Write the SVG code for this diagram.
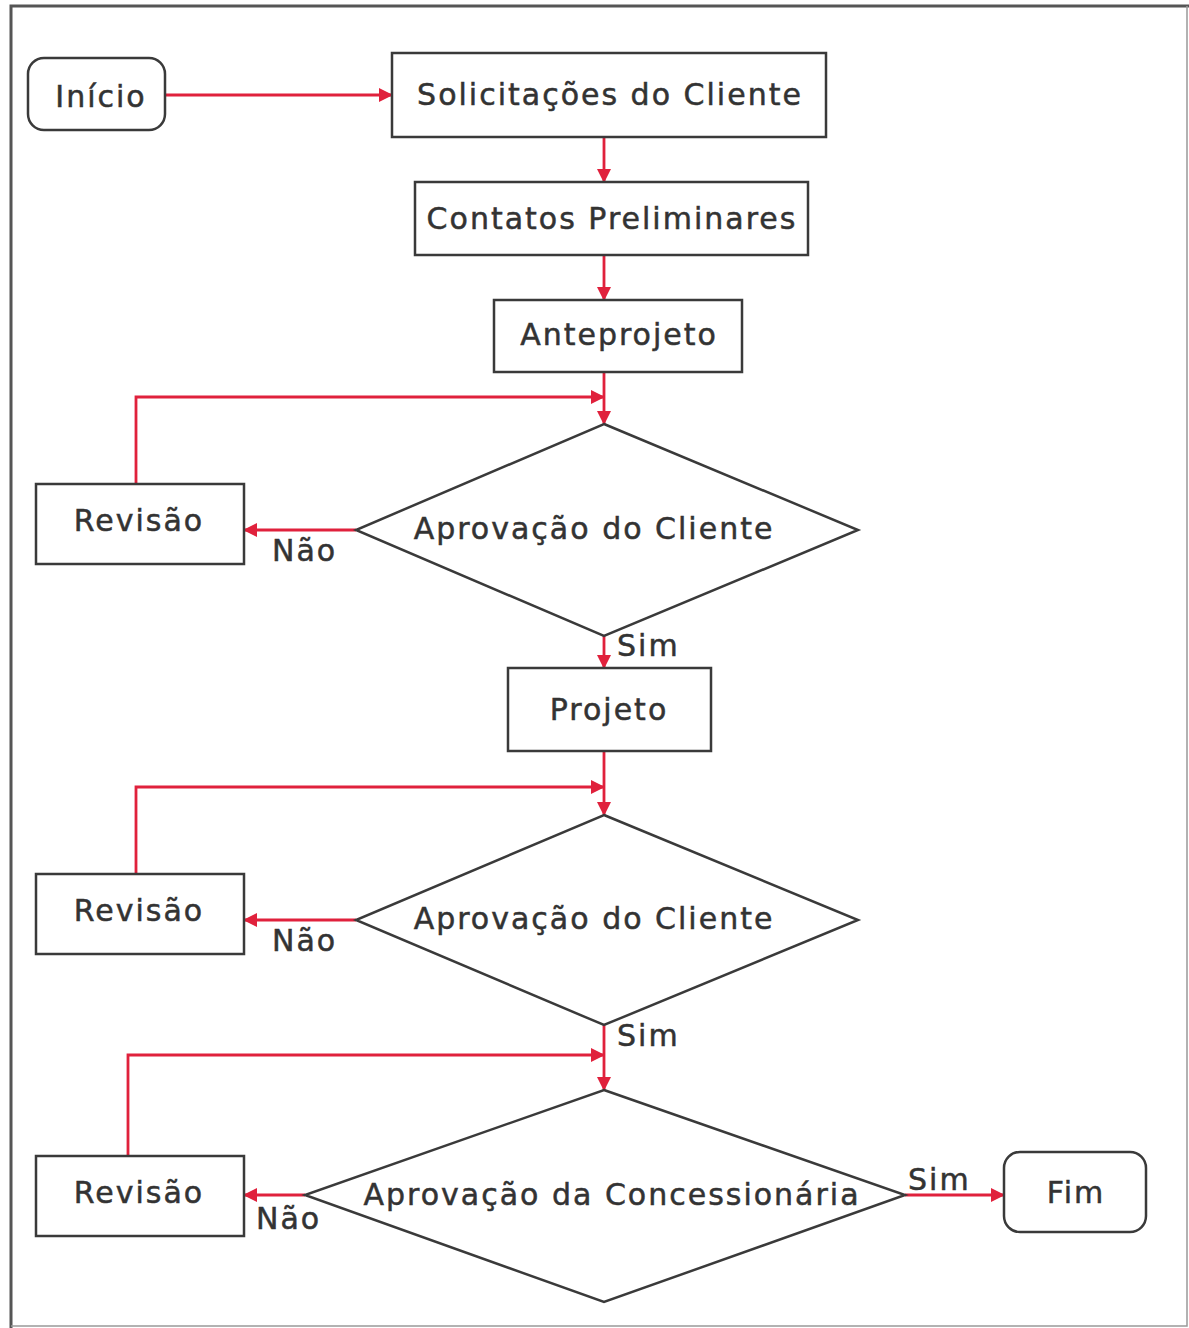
<svg xmlns="http://www.w3.org/2000/svg" width="1189" height="1328" viewBox="0 0 1189 1328">
<defs>
<marker id="ah" markerWidth="14" markerHeight="14" refX="13" refY="7" orient="auto" markerUnits="userSpaceOnUse">
<path d="M0,0 L14,7 L0,14 Z" fill="#e0213c"/>
</marker>
<style>
.box{fill:#fff;stroke:#3a3a3a;stroke-width:2.5}
.lbl{font-family:"DejaVu Sans",Verdana,sans-serif;font-size:30px;letter-spacing:2px;fill:#333;stroke:#333;stroke-width:0.5;text-anchor:middle;dominant-baseline:central}
.sm{font-family:"DejaVu Sans",Verdana,sans-serif;font-size:30px;letter-spacing:2px;fill:#333;stroke:#333;stroke-width:0.5}
.c{fill:none;stroke:#e0213c;stroke-width:2.8}
</style>
</defs>
<rect x="0" y="0" width="1189" height="1328" fill="#fff"/>
<path d="M11,1328 L11,6 L1189,6" fill="none" stroke="#555" stroke-width="3"/>
<path d="M1187,6 L1187,1326 L11,1326" fill="none" stroke="#999" stroke-width="1.5"/>
<g id="connectors">
<path class="c" d="M165,95 L392,95" marker-end="url(#ah)"/>
<path class="c" d="M604,137 L604,182" marker-end="url(#ah)"/>
<path class="c" d="M604,255 L604,300" marker-end="url(#ah)"/>
<path class="c" d="M604,372 L604,424" marker-end="url(#ah)"/>
<path class="c" d="M136,484 L136,397 L604,397" marker-end="url(#ah)"/>
<path class="c" d="M356,530 L244,530" marker-end="url(#ah)"/>
<path class="c" d="M604,636 L604,668" marker-end="url(#ah)"/>
<path class="c" d="M604,751 L604,815" marker-end="url(#ah)"/>
<path class="c" d="M136,874 L136,787 L604,787" marker-end="url(#ah)"/>
<path class="c" d="M356,920 L244,920" marker-end="url(#ah)"/>
<path class="c" d="M604,1025 L604,1090" marker-end="url(#ah)"/>
<path class="c" d="M128,1156 L128,1055 L604,1055" marker-end="url(#ah)"/>
<path class="c" d="M305,1195 L244,1195" marker-end="url(#ah)"/>
<path class="c" d="M905,1195 L1004,1195" marker-end="url(#ah)"/>
</g>
<g id="inicio"><rect class="box" x="28" y="58" width="137" height="72" rx="16"/><text class="lbl" x="101" y="96">Início</text></g>
<g id="solicitacoes"><rect class="box" x="392" y="53" width="434" height="84"/><text class="lbl" x="610" y="94">Solicitações do Cliente</text></g>
<g id="contatos"><rect class="box" x="415" y="182" width="393" height="73"/><text class="lbl" x="612" y="218">Contatos Preliminares</text></g>
<g id="anteprojeto"><rect class="box" x="494" y="300" width="248" height="72"/><text class="lbl" x="619" y="334">Anteprojeto</text></g>
<g id="aprovacao1"><path class="box" d="M604,424 L858,530 L604,636 L356,530 Z"/><text class="lbl" x="594" y="528">Aprovação do Cliente</text></g>
<g id="revisao1"><rect class="box" x="36" y="484" width="208" height="80"/><text class="lbl" x="139" y="520">Revisão</text></g>
<g id="projeto"><rect class="box" x="508" y="668" width="203" height="83"/><text class="lbl" x="609" y="709">Projeto</text></g>
<g id="aprovacao2"><path class="box" d="M604,815 L858,920 L604,1025 L356,920 Z"/><text class="lbl" x="594" y="918">Aprovação do Cliente</text></g>
<g id="revisao2"><rect class="box" x="36" y="874" width="208" height="80"/><text class="lbl" x="139" y="910">Revisão</text></g>
<g id="aprovacao3"><path class="box" d="M604,1090 L905,1195 L604,1302 L305,1195 Z"/><text class="lbl" x="612" y="1194">Aprovação da Concessionária</text></g>
<g id="revisao3"><rect class="box" x="36" y="1156" width="208" height="80"/><text class="lbl" x="139" y="1192">Revisão</text></g>
<g id="fim"><rect class="box" x="1004" y="1152" width="142" height="80" rx="16"/><text class="lbl" x="1076" y="1192">Fim</text></g>
<g id="labels">
<text class="sm" x="272" y="561">Não</text>
<text class="sm" x="617" y="656">Sim</text>
<text class="sm" x="272" y="951">Não</text>
<text class="sm" x="617" y="1046">Sim</text>
<text class="sm" x="256" y="1229">Não</text>
<text class="sm" x="908" y="1190">Sim</text>
</g>
</svg>
